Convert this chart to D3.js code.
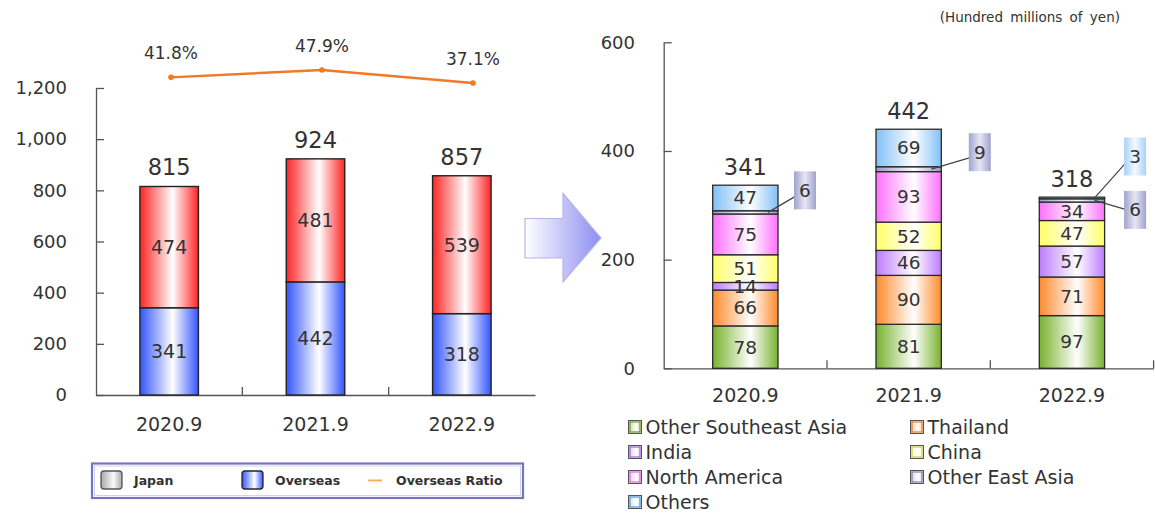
<!DOCTYPE html>
<html>
<head>
<meta charset="utf-8">
<script src="https://cdn.jsdelivr.net/npm/d3@7"></script>
<style>
  body { margin: 0; background: #fff; }
  svg { display: block; font-family: "DejaVu Sans", Verdana, sans-serif; }
</style>
</head>
<body>
<svg id="chart" width="1155" height="517"></svg>
<script>
// ---- Net sales by location (hundred millions of yen) ----
const years = ["2020.9", "2021.9", "2022.9"];
const overseasSales = [341, 442, 318];
const japanSales = [474, 481, 539];
const totalSales = [815, 924, 857];
const overseasRatio = [41.8, 47.9, 37.1];
const salesTicks = [0, 200, 400, 600, 800, 1000, 1200];

// ---- Overseas sales by region ----
const regionNames = ["Other Southeast Asia", "Thailand", "India", "China",
                     "North America", "Other East Asia", "Others"];
const otherSEAsia   = [78, 81, 97];
const thailand      = [66, 90, 71];
const india         = [14, 46, 57];
const china         = [51, 52, 47];
const northAmerica  = [75, 93, 34];
const otherEastAsia = [6, 9, 6];
const others        = [47, 69, 3];
const overseasTotals = [341, 442, 318];
const regionTicks = [0, 200, 400, 600];
// small segments labelled outside the bar: [region, year]
const calloutSegments = [["Other East Asia", "2020.9"], ["Other East Asia", "2021.9"],
                         ["Others", "2022.9"], ["Other East Asia", "2022.9"]];

const regionSeries = [otherSEAsia, thailand, india, china, northAmerica, otherEastAsia, others];

const svg = d3.select("#chart");
const defs = svg.append("defs");
const TEXT = "#333";
const AXIS = "#555";

// horizontal "shine" gradient: colour at the edges, white in the middle
function shine(id, c, mid = 0.56, midColor = "#fff") {
  const g = defs.append("linearGradient").attr("id", id)
    .attr("x1", 0).attr("x2", 1).attr("y1", 0).attr("y2", 0);
  g.append("stop").attr("offset", 0).attr("stop-color", c);
  g.append("stop").attr("offset", mid).attr("stop-color", midColor);
  g.append("stop").attr("offset", 1).attr("stop-color", c);
  return `url(#${id})`;
}

// =================== left chart: Japan / Overseas ===================
const yL = d3.scaleLinear().domain([0, 1200]).range([395, 88]);
const xL = d3.scaleBand().domain(years).range([96, 535]).paddingInner(0.6).paddingOuter(0.3);
const xLine = d3.scalePoint().domain(years).range([171, 473]);
const yRatio = d3.scaleLinear().domain([0, 100]).range([127.5, 7.5]);

const fillJapan = shine("gJapan", "#ff2424");
const fillOverseas = shine("gOverseas", "#3355ff");

const left = svg.append("g");

// y axis (ticks point inward)
const yAxisL = left.append("g").attr("transform", `translate(${xL.range()[0]},0)`)
  .call(d3.axisLeft(yL).tickValues(salesTicks).tickFormat(d3.format(","))
        .tickSizeInner(-8).tickSizeOuter(0).tickPadding(29));
yAxisL.attr("font-family", null).attr("font-size", 18);
yAxisL.selectAll("text").attr("fill", TEXT);
yAxisL.selectAll("line, path").attr("stroke", AXIS).attr("stroke-width", 1.3);

// x axis
const xAxisL = left.append("g").attr("transform", `translate(0,${yL(0)})`)
  .call(d3.axisBottom(xL).tickSizeInner(0).tickSizeOuter(0).tickPadding(23));
xAxisL.attr("font-family", null).attr("font-size", 19);
xAxisL.selectAll("text").attr("fill", TEXT);
xAxisL.select("path").attr("stroke", AXIS).attr("stroke-width", 1.3);
[1, 2].forEach(i => {
  const x = xL.range()[0] + i * xL.step();
  left.append("line").attr("x1", x).attr("x2", x).attr("y1", yL(0)).attr("y2", yL(0) - 8)
    .attr("stroke", AXIS).attr("stroke-width", 1.3);
});

// stacked bars
const barsL = years.map((y, i) => ({ year: y, overseas: overseasSales[i], japan: japanSales[i], total: totalSales[i] }));
left.selectAll(".ov").data(barsL).join("rect")
  .attr("x", d => xL(d.year)).attr("width", xL.bandwidth())
  .attr("y", d => yL(d.overseas)).attr("height", d => yL(0) - yL(d.overseas))
  .attr("fill", fillOverseas).attr("stroke", "#222").attr("stroke-width", 1.4);
left.selectAll(".jp").data(barsL).join("rect")
  .attr("x", d => xL(d.year)).attr("width", xL.bandwidth())
  .attr("y", d => yL(d.overseas + d.japan)).attr("height", d => yL(d.overseas) - yL(d.overseas + d.japan))
  .attr("fill", fillJapan).attr("stroke", "#222").attr("stroke-width", 1.4);

left.selectAll(".ovl").data(barsL).join("text")
  .attr("x", d => xL(d.year) + xL.bandwidth() / 2).attr("y", d => yL(d.overseas / 2))
  .attr("text-anchor", "middle").attr("dominant-baseline", "central")
  .attr("font-size", 19).attr("fill", TEXT).text(d => d.overseas);
left.selectAll(".jpl").data(barsL).join("text")
  .attr("x", d => xL(d.year) + xL.bandwidth() / 2).attr("y", d => yL(d.overseas + d.japan / 2))
  .attr("text-anchor", "middle").attr("dominant-baseline", "central")
  .attr("font-size", 19).attr("fill", TEXT).text(d => d.japan);
left.selectAll(".tot").data(barsL).join("text")
  .attr("x", d => xL(d.year) + xL.bandwidth() / 2).attr("y", d => yL(d.overseas + d.japan) - 19)
  .attr("text-anchor", "middle").attr("dominant-baseline", "central")
  .attr("font-size", 22.5).attr("fill", TEXT).text(d => d.total);

// overseas ratio line
const ratioPts = years.map((y, i) => ({ year: y, v: overseasRatio[i] }));
left.append("path").datum(ratioPts)
  .attr("d", d3.line().x(d => xLine(d.year)).y(d => yRatio(d.v)))
  .attr("fill", "none").attr("stroke", "#f07a28").attr("stroke-width", 2.4);
left.selectAll(".rp").data(ratioPts).join("circle")
  .attr("cx", d => xLine(d.year)).attr("cy", d => yRatio(d.v)).attr("r", 2.8).attr("fill", "#f07a28");
left.selectAll(".rl").data(ratioPts).join("text")
  .attr("x", d => xLine(d.year)).attr("y", d => yRatio(d.v) - 24)
  .attr("text-anchor", "middle").attr("dominant-baseline", "central")
  .attr("font-size", 17).attr("fill", TEXT).text(d => d.v.toFixed(1) + "%");

// legend box
const lg = left.append("g");
lg.append("rect").attr("x", 92).attr("y", 463.5).attr("width", 431).attr("height", 34.5)
  .attr("fill", "#fff").attr("stroke", "#7474c0").attr("stroke-width", 2.2);
lg.append("rect").attr("x", 94.5).attr("y", 466).attr("width", 426).attr("height", 29.5)
  .attr("fill", "none").attr("stroke", "#c8c8e4").attr("stroke-width", 0.8);
const fillGray = shine("gGray", "#a8a8a8", 0.6, "#fafafa");
const legendL = [
  { label: "Japan", fill: fillGray, stroke: "#555", x: 101 },
  { label: "Overseas", fill: shine("gOvLeg", "#3355ff", 0.6), stroke: "#223", x: 242 }
];
legendL.forEach(d => {
  lg.append("rect").attr("x", d.x).attr("y", 471).attr("width", 21).attr("height", 18).attr("rx", 3)
    .attr("fill", d.fill).attr("stroke", d.stroke).attr("stroke-width", 1.3);
  lg.append("text").attr("x", d.x + 33).attr("y", 480.5).attr("dominant-baseline", "central")
    .attr("font-size", 12.5).attr("font-weight", "bold").attr("fill", TEXT).text(d.label);
});
lg.append("line").attr("x1", 368).attr("x2", 382).attr("y1", 480.5).attr("y2", 480.5)
  .attr("stroke", "#f5b064").attr("stroke-width", 2);
lg.append("text").attr("x", 396).attr("y", 480.5).attr("dominant-baseline", "central")
  .attr("font-size", 12.5).attr("font-weight", "bold").attr("fill", TEXT).text("Overseas Ratio");

// =================== arrow ===================
const ag = defs.append("linearGradient").attr("id", "gArrow").attr("x1", 0).attr("x2", 1);
ag.append("stop").attr("offset", 0).attr("stop-color", "#ffffff");
ag.append("stop").attr("offset", 1).attr("stop-color", "#8c8cf2");
svg.append("path")
  .attr("d", "M525,218.5 L563,218.5 L563,193.5 L601,238 L563,282 L563,258 L525,258 Z")
  .attr("fill", "url(#gArrow)").attr("stroke", "#b4b4e4").attr("stroke-width", 1.2);

// =================== right chart: overseas by region ===================
const yR = d3.scaleLinear().domain([0, 600]).range([368.3, 42.3]);
const xR = d3.scaleBand().domain(years).range([663.7, 1153.6]).paddingInner(0.6).paddingOuter(0.3);

const regionColors = ["#78b22e", "#ff8a2c", "#bd7cff", "#ffff66", "#ff70ff", "#9a9ac8", "#82c0f8"];
const regionStroke = ["#6a9a30", "#d88040", "#9a6ad0", "#c8c860", "#d070d0", "#8080a8", "#5a94c8"];
const regionFills = regionColors.map((c, i) => shine("gR" + i, c, 0.58));

const right = svg.append("g");

const yAxisR = right.append("g").attr("transform", `translate(${xR.range()[0]},0)`)
  .call(d3.axisLeft(yR).tickValues(regionTicks).tickFormat(d3.format("d"))
        .tickSizeInner(-8).tickSizeOuter(0).tickPadding(28.7));
yAxisR.attr("font-family", null).attr("font-size", 18);
yAxisR.selectAll("text").attr("fill", TEXT);
yAxisR.selectAll("line, path").attr("stroke", AXIS).attr("stroke-width", 1.3);

const xAxisR = right.append("g").attr("transform", `translate(0,${yR(0)})`)
  .call(d3.axisBottom(xR).tickSizeInner(0).tickSizeOuter(0).tickPadding(20));
xAxisR.attr("font-family", null).attr("font-size", 19);
xAxisR.selectAll("text").attr("fill", TEXT);
xAxisR.select("path").attr("stroke", AXIS).attr("stroke-width", 1.3);
[1, 2, 3].forEach(i => {
  const x = xR.range()[0] + i * xR.step();
  right.append("line").attr("x1", x).attr("x2", x).attr("y1", yR(0)).attr("y2", yR(0) - 8)
    .attr("stroke", AXIS).attr("stroke-width", 1.3);
});

// unit caption
right.append("text").attr("x", 1120).attr("y", 17).attr("text-anchor", "end")
  .attr("dominant-baseline", "central").attr("font-size", 13.5).attr("fill", TEXT)
  .attr("word-spacing", 3).text("(Hundred millions of yen)");

// stacked region bars
const rows = years.map((y, i) => {
  const r = { year: y };
  regionNames.forEach((n, k) => { r[n] = regionSeries[k][i]; });
  return r;
});
const stacked = d3.stack().keys(regionNames)(rows);
const isCallout = (key, year) => calloutSegments.some(c => c[0] === key && c[1] === year);

stacked.forEach((layer, k) => {
  const g = right.append("g");
  g.selectAll("rect").data(layer).join("rect")
    .attr("x", d => xR(d.data.year)).attr("width", xR.bandwidth())
    .attr("y", d => yR(d[1])).attr("height", d => yR(d[0]) - yR(d[1]))
    .attr("fill", regionFills[k]).attr("stroke", "#2a2a2a").attr("stroke-width", 1.3);
});
stacked.forEach(layer => {
  right.append("g").selectAll("text")
    .data(layer.filter(d => !isCallout(layer.key, d.data.year)))
    .join("text")
    .attr("x", d => xR(d.data.year) + xR.bandwidth() / 2).attr("y", d => yR((d[0] + d[1]) / 2))
    .attr("text-anchor", "middle").attr("dominant-baseline", "central")
    .attr("font-size", 18.5).attr("fill", TEXT).text(d => d[1] - d[0]);
});

// totals above the bars
const topOf = years.map((y, i) => d3.sum(regionSeries, s => s[i]));
right.selectAll(".rt").data(years).join("text")
  .attr("x", d => xR(d) + xR.bandwidth() / 2).attr("y", (d, i) => yR(topOf[i]) - 18)
  .attr("text-anchor", "middle").attr("dominant-baseline", "central")
  .attr("font-size", 22.5).attr("fill", TEXT).text((d, i) => overseasTotals[i]);

// callout labels for thin segments: box offsets relative to the bar's right edge / segment centre
const calloutLayout = {
  "Other East Asia|2020.9": { dx: 16, dy: -22 },
  "Other East Asia|2021.9": { dx: 27.5, dy: -17 },
  "Others|2022.9": { dx: 19.5, dy: -41.5 },
  "Other East Asia|2022.9": { dx: 19.5, dy: 9.5 }
};
const boxFills = {
  "Other East Asia": shine("gBoxOEA", "#a2a2cf", 0.5, "#e6e6f4"),
  "Others": shine("gBoxOth", "#a6d2fb", 0.5, "#f4f9ff")
};
calloutSegments.forEach(([key, year]) => {
  const layer = stacked.find(l => l.key === key);
  const seg = layer.find(d => d.data.year === year);
  const lay = calloutLayout[key + "|" + year];
  const barRight = xR(year) + xR.bandwidth();
  const cy = yR((seg[0] + seg[1]) / 2);
  const bx = barRight + lay.dx, by = cy + lay.dy;
  right.append("line").attr("x1", barRight - 10).attr("y1", cy)
    .attr("x2", bx + 3).attr("y2", by + (lay.dy < 0 ? 5 : 0))
    .attr("stroke", "#444").attr("stroke-width", 1.2);
  right.append("rect").attr("x", bx).attr("y", by - 19).attr("width", 22).attr("height", 38)
    .attr("fill", boxFills[key]);
  right.append("text").attr("x", bx + 11).attr("y", by).attr("text-anchor", "middle")
    .attr("dominant-baseline", "central").attr("font-size", 18.5).attr("fill", TEXT)
    .text(seg[1] - seg[0]);
});

// region legend (two columns, filled row by row)
const legR = right.append("g");
regionNames.forEach((n, k) => {
  const col = k % 2, row = Math.floor(k / 2);
  const x = col === 0 ? 628.5 : 910.5;
  const y = 427 + row * 25;
  const pale = d3.interpolateRgb(regionColors[k], "#fff")(0.55);
  legR.append("rect").attr("x", x).attr("y", y - 6.5).attr("width", 13).attr("height", 13)
    .attr("fill", shine("gL" + k, pale, 0.6, "#ffffff"))
    .attr("stroke", "#555").attr("stroke-width", 1);
  legR.append("rect").attr("x", x + 1.5).attr("y", y - 5).attr("width", 10).attr("height", 10)
    .attr("fill", "none").attr("stroke", regionStroke[k]).attr("stroke-width", 1.2);
  legR.append("text").attr("x", x + 17).attr("y", y).attr("dominant-baseline", "central")
    .attr("font-size", 19).attr("fill", TEXT).text(n);
});
</script>
</body>
</html>
